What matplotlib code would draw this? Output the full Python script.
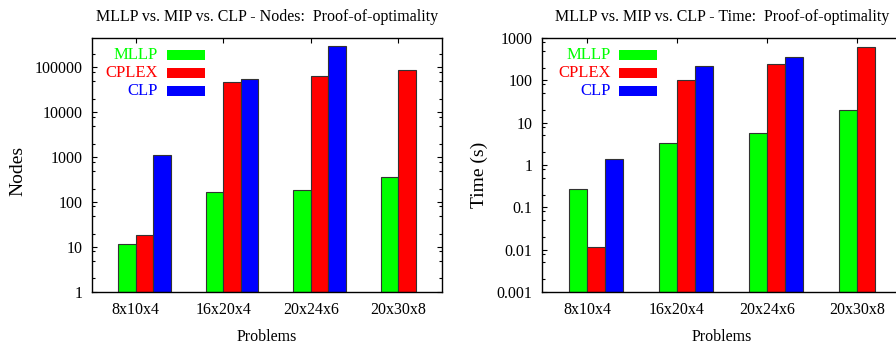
import numpy as np
import matplotlib
matplotlib.use('Agg')
import matplotlib.pyplot as plt
from matplotlib.patches import Rectangle
from matplotlib.ticker import FixedLocator, NullFormatter

plt.rcParams['font.family'] = ['Liberation Serif', 'DejaVu Serif']
plt.rcParams['font.size'] = 11.5

# ── Data ──────────────────────────────────────────────────────────────────────
PROBLEMS = ['8x10x4', '16x20x4', '20x24x6', '20x30x8']
SERIES   = ['MLLP', 'CPLEX', 'CLP']
COLORS   = ['#00ff00', '#ff0000', '#0000ff']

NODES_MLLP  = [11, 163, 190, 364]
NODES_CPLEX = [18, 47500, 64600, 85100]
NODES_CLP   = [1120, 56400, 301000, np.nan]

TIME_MLLP  = [0.276, 3.3, 5.7, 19.5]
TIME_CPLEX = [0.0104, 102, 243, 602]
TIME_CLP   = [1.39, 214, 356, np.nan]

NODES_TICKS = [1, 10, 100, 1000, 10000, 100000]
NODES_TICKLABELS = ['1', '10', '100', '1000', '10000', '100000']
TIME_TICKS = [0.001, 0.01, 0.1, 1, 10, 100, 1000]
TIME_TICKLABELS = ['0.001', '0.01', '0.1', '1', '10', '100', '1000']


def minor_ticks(lo_exp, hi_exp):
    return [m * 10.0 ** e for e in range(lo_exp, hi_exp) for m in (2, 5, 8)]


def draw_panel(ax, values, yticks, yticklabels, ylim, minors, ylabel, title,
               leg_text_x, leg_box_x, leg_box_w, ylabel_xy, right_ticks=True):
    x = np.arange(1, len(PROBLEMS) + 1)
    offsets = [-0.2, 0.0, 0.2]
    for vals, off, col in zip(values, offsets, COLORS):
        vals = np.asarray(vals, dtype=float)
        ok = ~np.isnan(vals)
        ax.bar(x[ok] + off, vals[ok], width=0.2, align='edge', bottom=ylim[0],
               color=col, edgecolor='#333333', linewidth=0.8, zorder=2)

    ax.set_yscale('log')
    ax.set_ylim(*ylim)
    ax.set_xlim(0.5, len(PROBLEMS) + 0.5)
    ax.yaxis.set_major_locator(FixedLocator(yticks))
    ax.set_yticklabels(yticklabels)
    ax.yaxis.set_minor_locator(FixedLocator(minors))
    ax.yaxis.set_minor_formatter(NullFormatter())
    ax.set_xticks(x)
    ax.set_xticklabels(PROBLEMS)
    ax.tick_params(which='both', direction='in', top=True, right=right_ticks,
                   width=0.8, color='black')
    ax.tick_params(which='major', length=3.6, pad=7)
    ax.tick_params(which='minor', length=2.2)
    ax.tick_params(axis='x', pad=7)
    for sp in ax.spines.values():
        sp.set_linewidth(1.0)

    ax.set_title(title, fontsize=11.5, pad=12)
    ax.set_xlabel('Problems', labelpad=8)
    ax.set_ylabel(ylabel, fontsize=14, va='center')
    ax.yaxis.set_label_coords(*ylabel_xy)

    rows = [0.933, 0.862, 0.791]
    for name, col, yy in zip(SERIES, COLORS, rows):
        ax.text(leg_text_x, yy, name, color=col, ha='right', va='center',
                transform=ax.transAxes, fontsize=12)
        ax.add_patch(Rectangle((leg_box_x, yy - 0.02), leg_box_w, 0.04,
                               transform=ax.transAxes, facecolor=col,
                               edgecolor='none', zorder=3))


fig = plt.figure(figsize=(8.96, 3.5), dpi=100)
ax1 = fig.add_axes([92 / 896, 58 / 350, 350 / 896, 254 / 350])
ax2 = fig.add_axes([542 / 896, 58 / 350, 360 / 896, 254 / 350])

draw_panel(ax1, [NODES_MLLP, NODES_CPLEX, NODES_CLP], NODES_TICKS,
           NODES_TICKLABELS, (1, 4.5e5), minor_ticks(0, 6), 'Nodes',
           'MLLP vs. MIP vs. CLP - Nodes:  Proof-of-optimality',
           0.189, 0.214, 0.109, ylabel_xy=(-0.211, 0.476))
draw_panel(ax2, [TIME_MLLP, TIME_CPLEX, TIME_CLP], TIME_TICKS,
           TIME_TICKLABELS, (0.001, 1000), minor_ticks(-3, 3), 'Time (s)',
           'MLLP vs. MIP vs. CLP - Time:  Proof-of-optimality',
           0.192, 0.214, 0.106, ylabel_xy=(-0.175, 0.46), right_ticks=False)

fig.savefig('out.png', dpi=100)
